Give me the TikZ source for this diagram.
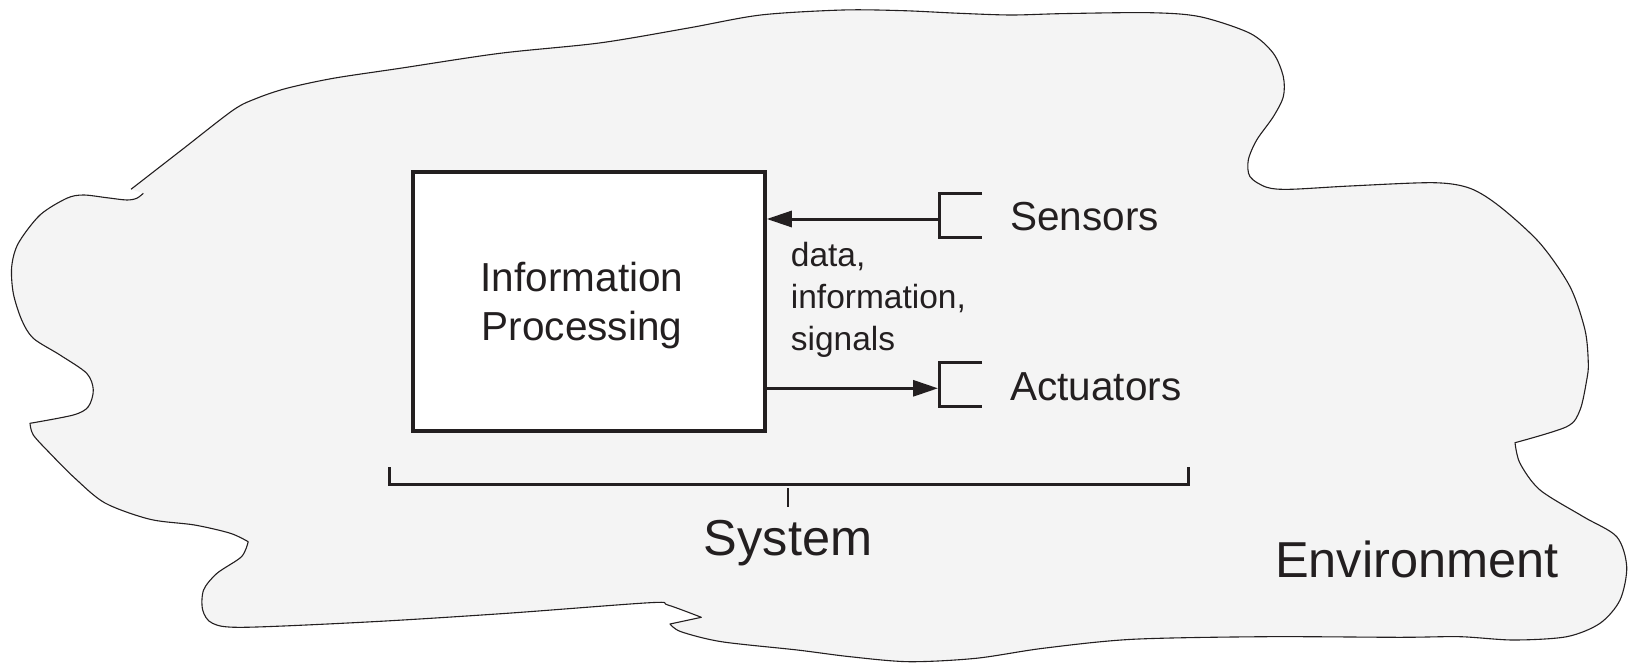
\documentclass[tikz,border=0pt]{standalone}
\usepackage{fontspec}
\setmainfont{Liberation Sans}
\usetikzlibrary{arrows.meta}
\definecolor{ink}{HTML}{231F20}
\definecolor{envfill}{HTML}{F4F4F4}
\tikzset{
  envline/.style={fill=envfill, draw=ink, line width=1.1pt, line join=round},
  ipbox/.style={draw=ink, fill=white, line width=3.5pt, minimum width=352pt, minimum height=259pt, inner sep=0pt},
  flow/.style={draw=ink, line width=3pt, -{Triangle[length=25pt,width=16pt]}},
  bracketline/.style={draw=ink, line width=3pt, line join=miter},
  bigtxt/.style={text=ink, inner sep=0pt, font=\fontsize{40.5}{48.5}\selectfont},
  hugetxt/.style={text=ink, inner sep=0pt, font=\fontsize{50.5}{60}\selectfont},
  smalltxt/.style={text=ink, inner sep=0pt, align=left, font=\fontsize{33.5}{42}\selectfont},
}
\begin{document}
\begin{tikzpicture}[x=1pt,y=-1pt]
\useasboundingbox (0,0) rectangle (1632,663);
% environment blob
\path[envline]
  plot[smooth,tension=.5] coordinates {(143.3,193.3) (136.7,198.3) (126.7,200) (106.7,197.7) (83.3,195) (66.7,198.3) (40,215) (18.3,243.3) (11.7,266.7) (13.3,293.3) (21.7,320) (33.3,338.3) (60,355) (86.7,373.3) (93.3,390) (88.3,406.7) (73.3,415) (30,423.3)}
  -- plot[smooth,tension=.5] coordinates {(30,423.3) (33.3,435) (50,453.3) (75,478.3) (105,503) (150,519.3) (194.6,525) (230.4,533.3) (248.2,541.7)}
  -- plot[smooth,tension=.5] coordinates {(248.2,541.7) (241.5,556.7) (217,573.3) (203.6,590) (202.7,610) (212.5,623.3) (243.75,627.3) (373,621.7) (507,613.3) (650,602.7) (667.9,605) (701.3,617.3)}
  -- (670,624)
  -- plot[smooth,tension=.5] coordinates {(670,624) (681,631.7) (721.4,641.7) (797.3,650) (850,656.7) (909,661.7) (976,658.3) (1043,648.3) (1132.5,639.3) (1266,636.7) (1400,637.3) (1460,636.7) (1513.3,640) (1566.7,636.7) (1600,623.3) (1620,600) (1626.7,566.7) (1616.7,536.7) (1583.3,516.7) (1540,490) (1520,463.3) (1515,442.7)}
  -- plot[smooth,tension=.5] coordinates {(1515,442.7) (1566.7,426.7) (1580,410) (1586.7,380) (1588.3,363.3) (1585,330) (1570,286.7) (1540,243.3) (1500,206.7) (1470,188.3) (1433.3,182.7) (1350,186) (1290,189.3) (1266.7,187.3) (1250,176.7) (1248.3,160) (1256.7,140) (1273.3,116.7) (1283.3,96.7) (1283.3,76.7) (1273.3,53.3) (1250,33.3) (1200,16.7) (1150,12.7) (1064,13.6) (1010.7,15) (957,13.2) (903.6,10.7) (842.9,10) (760.7,15) (689,27.9) (600,42.9) (500,53.3) (400,68.3) (333.3,78.3) (286.7,88.3) (256.7,98.3) (233.3,110) (182,149.7) (131,189.3)};
% information processing box
\node[ipbox] (ip) at (589,301.5) {};
\node[bigtxt, align=center, anchor=base] (iptxt) at (582,340) {Information\\Processing};
% sensors
\coordinate (sa) at (939,219);
\draw[bracketline] (982,193.5) -- (939,193.5) -- (939,237.5) -- (982,237.5);
\draw[flow] (sa) -- (ip.east |- sa);
\node[bigtxt, anchor=base west] (sens) at (1010,230.5) {Sensors};
% actuators
\coordinate (aa) at (938,388.3);
\draw[bracketline] (982,362.3) -- (939,362.3) -- (939,406) -- (982,406);
\draw[flow] (ip.east |- aa) -- (aa);
\node[bigtxt, anchor=base west] (act) at (1010,400) {Actuators};
% signal label
\node[smalltxt, anchor=base west] (sig) at (790.7,350) {data,\\information,\\signals};
% system bracket
\coordinate (tt) at (788,488);
\coordinate (tb) at (788,507);
\draw[bracketline] (389,467) -- (389,484) -- (1188,484) -- (1188,467);
\draw[draw=ink, line width=2.5pt] (tt) -- (tb);
\node[hugetxt, anchor=base] (sys) at (788,555) {System};
\node[hugetxt, anchor=base west] (env) at (1275,577) {Environment};
\end{tikzpicture}
\end{document}
